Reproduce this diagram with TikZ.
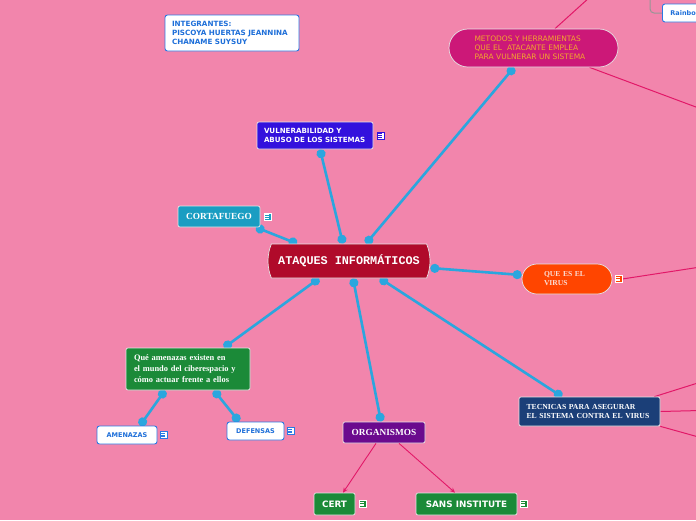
\documentclass[tikz,border=0pt]{standalone}
\usepackage{fontspec}
\usepackage{tikz}
\usetikzlibrary{arrows.meta,shapes.misc,backgrounds}
\newfontfamily\mapsans{DejaVu Sans}
\newfontfamily\mapserif{Liberation Serif}
\newfontfamily\mapmono{Liberation Mono}
\definecolor{mappink}{RGB}{242,133,172}
\definecolor{linkblue}{RGB}{43,166,222}
\definecolor{relred}{RGB}{226,24,104}
\definecolor{notebdr}{RGB}{43,120,228}
\definecolor{notetxt}{RGB}{30,111,217}
\definecolor{metfill}{RGB}{204,24,120}
\definecolor{mettxt}{RGB}{242,166,46}
\definecolor{vulnfill}{RGB}{51,17,221}
\definecolor{cortfill}{RGB}{26,157,194}
\definecolor{ataqfill}{RGB}{176,10,42}
\definecolor{virfill}{RGB}{255,69,0}
\definecolor{virtxt}{RGB}{250,220,212}
\definecolor{amenfill}{RGB}{27,138,56}
\definecolor{orgfill}{RGB}{107,10,142}
\definecolor{tecfill}{RGB}{27,63,120}
\definecolor{greyline}{RGB}{150,150,150}
\tikzset{
  topic/.style={draw=white!80!gray,line width=0.7pt,rounded corners=2pt,
    text=white,inner sep=0pt,font=\mapserif\bfseries},
  note/.style={draw=notebdr,fill=white,line width=0.9pt,rounded corners=2.5pt,
    text=notetxt,inner sep=0pt,font=\mapsans\bfseries},
  link/.style={{Circle[length=9pt]}-{Circle[length=9pt]},line width=2.6pt,linkblue},
  rel/.style={-{Stealth[length=5pt,width=4.5pt]},line width=0.9pt,relred},
  outline/.style={line width=1pt,relred},
  pics/noteicon/.style 2 args={code={
    \filldraw[fill=#1,draw=#2,line width=0.4pt] (-3.5,-3.5) rectangle (3.5,3.5);
    \draw[#2,line width=0.8pt] (-2,-1.8) -- (2,-1.8) (-2,0) -- (2,0) (-2,1.8) -- (2,1.8);
  }},
}
\begin{document}
\begin{tikzpicture}[x=1pt,y=-1pt]
  \useasboundingbox (0,0) rectangle (696,520);
  \node[note,minimum width=134pt,minimum height=36pt,text width=120pt,align=left,
    font=\mapsans\bfseries\fontsize{7.2}{9}\selectfont] (integ) at (232,33)
    {INTEGRANTES:\\PISCOYA HUERTAS JEANNINA\\CHANAME SUYSUY};
  \node[topic,fill=metfill,rounded corners=19pt,minimum width=169pt,minimum height=38pt,
    text width=118pt,align=left,text=mettxt,font=\mapsans\fontsize{7.5}{9}\selectfont]
    (metodos) at (533.5,48)
    {METODOS Y HERRAMIENTAS\\QUE EL\ \ ATACANTE EMPLEA\\PARA VULNERAR UN SISTEMA};
  \node[note,anchor=west,minimum height=18pt,text width=44pt,inner xsep=8pt,align=left,
    font=\mapsans\bfseries\fontsize{6.5}{8}\selectfont] (rainbo) at (662,13) {Rainbo};
  \node[topic,fill=vulnfill,minimum width=116pt,minimum height=27pt,text width=102pt,
    align=left,font=\mapsans\bfseries\fontsize{7.1}{9}\selectfont] (vuln) at (315,135.5)
    {VULNERABILIDAD Y\\ABUSO DE LOS SISTEMAS};
  \node[topic,fill=cortfill,minimum width=82pt,minimum height=21pt,
    font=\mapserif\bfseries\fontsize{9.3}{10}\selectfont] (corta) at (219,216.5) {CORTAFUEGO};
  \node[topic,fill=ataqfill,rounded rectangle,rounded rectangle arc length=45,rounded corners=0pt,
    minimum width=162pt,minimum height=34pt,font=\mapmono\bfseries\fontsize{11.8}{13}\selectfont]
    (central) at (349,261) {ATAQUES INFORMÁTICOS};
  \node[topic,fill=virfill,rounded corners=15pt,minimum width=90pt,minimum height=30pt,
    text width=46pt,align=left,text=virtxt,font=\mapserif\bfseries\fontsize{7.6}{9}\selectfont]
    (virus) at (567,279) {QUE ES EL\\VIRUS};
  \node[topic,fill=amenfill,minimum width=124pt,minimum height=42pt,text width=108pt,
    align=left,font=\mapserif\bfseries\fontsize{8.4}{11}\selectfont] (amen) at (188,369)
    {Qué amenazas existen en\\el mundo del ciberespacio y\\cómo actuar frente a ellos};
  \node[note,minimum width=60pt,minimum height=18pt,
    font=\mapsans\bfseries\fontsize{6.5}{8}\selectfont] (amenazas) at (127,435) {AMENAZAS};
  \node[note,minimum width=57pt,minimum height=18pt,
    font=\mapsans\bfseries\fontsize{6.5}{8}\selectfont] (defensas) at (255.5,431) {DEFENSAS};
  \node[topic,fill=orgfill,minimum width=82pt,minimum height=21pt,
    font=\mapserif\bfseries\fontsize{9.3}{10}\selectfont] (organ) at (384,432.5) {ORGANISMOS};
  \node[topic,fill=tecfill,minimum width=141pt,minimum height=29pt,text width=126pt,
    align=left,font=\mapserif\bfseries\fontsize{7.7}{9}\selectfont] (tecn) at (589.5,411.5)
    {TECNICAS PARA ASEGURAR\\EL SISTEMA CONTRA EL VIRUS};
  \node[topic,fill=amenfill,minimum width=41pt,minimum height=22pt,
    font=\mapsans\bfseries\fontsize{8.8}{9}\selectfont] (cert) at (334.5,504) {CERT};
  \node[topic,fill=amenfill,minimum width=101pt,minimum height=22pt,
    font=\mapsans\bfseries\fontsize{8.8}{9}\selectfont] (sans) at (466.5,504) {SANS INSTITUTE};
  \pic at ([xshift=7pt]vuln.east) {noteicon={white}{vulnfill}};
  \pic at ([xshift=7pt]corta.east) {noteicon={cortfill}{white}};
  \pic at ([xshift=6pt]virus.east) {noteicon={virfill}{white}};
  \pic at ([xshift=6pt]amenazas.east) {noteicon={white}{notebdr}};
  \pic at ([xshift=6pt]defensas.east) {noteicon={white}{notebdr}};
  \pic at ([xshift=7pt]cert.east) {noteicon={amenfill}{white}};
  \pic at ([xshift=6pt]sans.east) {noteicon={amenfill}{white}};
  \coordinate (virusicon) at ([xshift=10pt]virus.east);
  \coordinate (offtop) at (590,-3);
  \coordinate (offright) at (720,116);
  \coordinate (offvirus) at (720,264);
  \coordinate (offtecA) at (720,376);
  \coordinate (offtecB) at (720,410);
  \coordinate (offtecC) at (720,443);
  \coordinate (raintop) at (650,-3);
  \draw[rel] ([xshift=-8pt]organ.south) -- ([xshift=8.5pt]cert.north);
  \draw[rel] ([xshift=15pt]organ.south) -- ([xshift=-11.5pt]sans.north);
  \begin{scope}[on background layer]
    \fill[mappink] (0,0) rectangle (696,520);
    \draw[outline] ([xshift=21.5pt]metodos.north) -- (offtop);
    \draw[outline] ([xshift=56pt]metodos.south) -- (offright);
    \draw[outline] (virusicon) -- (offvirus);
    \draw[outline] ([xshift=-6pt]tecn.north east) -- (offtecA);
    \draw[outline] (tecn.east) -- (offtecB);
    \draw[outline] (tecn.south east) -- (offtecC);
    \draw[greyline,line width=1pt,rounded corners=4pt] (raintop) |- (rainbo.west);
    \draw[link] ([xshift=-6pt]central.north) -- ([xshift=5pt]vuln.south);
    \draw[link] ([xshift=17pt]central.north) -- ([xshift=-19.5pt]metodos.south);
    \draw[link] ([xshift=-52pt]central.north) -- ([xshift=37pt]corta.south);
    \draw[link] ([yshift=-7pt]central.east) -- ([yshift=4pt]virus.west);
    \draw[link] ([xshift=-30pt]central.south) -- ([xshift=36pt]amen.north);
    \draw[link] ([xshift=4pt]central.south) -- ([xshift=-3pt]organ.north);
    \draw[link] ([xshift=31pt]central.south) -- ([xshift=-27.5pt]tecn.north);
    \draw[link] ([xshift=-23pt]amen.south) -- ([xshift=13pt]amenazas.north);
    \draw[link] ([xshift=26pt]amen.south) -- ([xshift=-16.5pt]defensas.north);
  \end{scope}
\end{tikzpicture}
\end{document}
